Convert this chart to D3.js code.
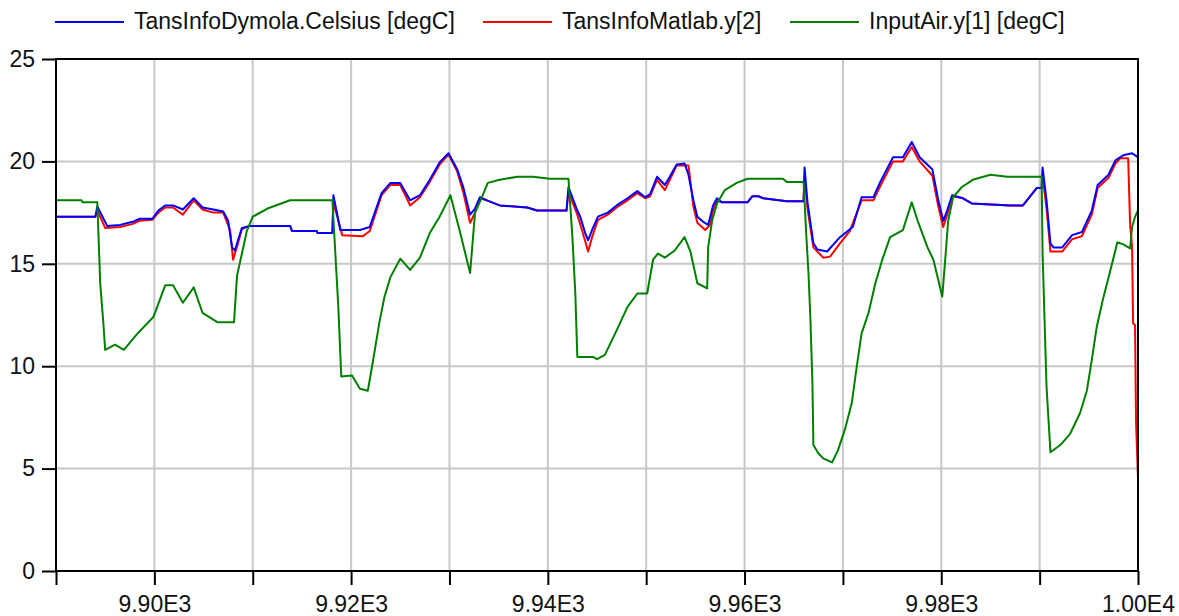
<!DOCTYPE html>
<html>
<head>
<meta charset="utf-8">
<script src="https://cdn.jsdelivr.net/npm/d3@7"></script>
<style>
	body { margin: 0; background: #fff; }
	text { font-family: "Liberation Sans", Arial, sans-serif; fill: #111; }
</style>
</head>
<body>
<svg id="chart" width="1179" height="616"></svg>
<script>
// series names + colours
var seriesName = ["TansInfoDymola.Celsius [degC]", "TansInfoMatlab.y[2]", "InputAir.y[1] [degC]"];
var seriesColor = ["#0000ff", "#ff0000", "#008000"];

var xTicks = [9890, 9900, 9910, 9920, 9930, 9940, 9950, 9960, 9970, 9980, 9990, 10000];
var yTicks = [0, 5, 10, 15, 20, 25];

// TansInfoDymola.Celsius
var tDymola = [9890.0, 9894.0, 9894.2, 9895.2, 9896.5, 9897.8, 9898.5, 9899.8, 9900.4, 9901.1, 9901.9, 9902.9, 9904.0, 9904.9, 9906.0, 9907.0, 9907.5, 9907.9, 9908.2, 9908.5, 9908.9, 9909.7, 9913.8, 9914.0, 9916.5, 9916.6, 9918.1, 9918.2, 9918.9, 9920.9, 9921.9, 9923.1, 9924.0, 9925.0, 9926.0, 9927.0, 9928.0, 9929.0, 9929.9, 9930.8, 9931.4, 9932.1, 9932.6, 9933.1, 9933.8, 9935.1, 9937.9, 9938.9, 9941.9, 9942.1, 9943.0, 9943.3, 9943.8, 9944.1, 9944.5, 9945.1, 9946.1, 9947.0, 9948.1, 9949.1, 9949.9, 9950.4, 9951.1, 9951.9, 9952.4, 9953.1, 9953.9, 9954.3, 9954.8, 9955.2, 9955.8, 9956.3, 9956.8, 9957.2, 9957.7, 9960.3, 9960.8, 9961.4, 9961.9, 9964.3, 9966.0, 9966.1, 9966.4, 9967.0, 9967.4, 9968.4, 9969.7, 9971.0, 9971.9, 9973.1, 9973.8, 9975.1, 9976.1, 9977.0, 9977.8, 9979.1, 9979.7, 9980.2, 9980.6, 9981.1, 9982.2, 9983.1, 9987.0, 9988.3, 9989.7, 9990.2, 9990.3, 9990.7, 9991.1, 9991.4, 9992.3, 9993.3, 9994.3, 9995.3, 9995.9, 9997.0, 9997.7, 9998.5, 9999.4, 10000.0];
var vDymola = [17.3, 17.3, 17.8, 16.85, 16.9, 17.05, 17.2, 17.2, 17.6, 17.85, 17.85, 17.65, 18.2, 17.75, 17.65, 17.55, 17.1, 15.8, 15.65, 16.15, 16.75, 16.85, 16.85, 16.6, 16.6, 16.5, 16.5, 18.35, 16.65, 16.65, 16.8, 18.45, 18.95, 18.95, 18.1, 18.35, 19.1, 19.95, 20.4, 19.6, 18.75, 17.4, 17.7, 18.25, 18.1, 17.85, 17.75, 17.6, 17.6, 18.75, 17.6, 17.3, 16.5, 16.15, 16.65, 17.3, 17.5, 17.85, 18.2, 18.55, 18.25, 18.4, 19.25, 18.85, 19.25, 19.85, 19.9, 19.35, 18.1, 17.3, 17.05, 16.9, 17.85, 18.2, 18.0, 18.0, 18.3, 18.3, 18.2, 18.05, 18.05, 19.7, 18.0, 16.0, 15.7, 15.6, 16.3, 16.8, 18.25, 18.25, 19.0, 20.2, 20.2, 20.95, 20.2, 19.6, 18.1, 17.1, 17.6, 18.35, 18.2, 17.95, 17.85, 17.85, 18.7, 18.7, 19.7, 18.1, 16.0, 15.8, 15.8, 16.4, 16.55, 17.6, 18.85, 19.35, 20.05, 20.3, 20.4, 20.2];

// TansInfoMatlab.y[2]
var tMatlab = [9890.0, 9894.0, 9894.2, 9895.0, 9896.5, 9897.8, 9898.5, 9899.8, 9900.4, 9901.1, 9901.9, 9902.9, 9904.0, 9904.9, 9906.0, 9907.0, 9907.7, 9908.0, 9908.5, 9908.9, 9909.7, 9913.8, 9914.0, 9916.5, 9916.6, 9918.1, 9918.2, 9919.1, 9921.2, 9921.9, 9923.1, 9924.0, 9925.0, 9926.0, 9927.0, 9928.0, 9929.0, 9929.9, 9930.8, 9931.4, 9932.1, 9932.6, 9933.1, 9933.8, 9935.1, 9937.9, 9938.9, 9941.9, 9942.1, 9943.0, 9943.5, 9944.1, 9944.5, 9945.1, 9946.1, 9947.0, 9948.1, 9949.1, 9949.9, 9950.4, 9951.1, 9951.9, 9952.4, 9953.1, 9954.3, 9954.8, 9955.2, 9956.0, 9956.5, 9956.8, 9957.2, 9957.7, 9960.3, 9960.8, 9961.4, 9961.9, 9964.3, 9966.0, 9966.1, 9966.4, 9967.0, 9968.0, 9968.7, 9969.7, 9970.7, 9971.9, 9973.1, 9973.8, 9975.1, 9976.1, 9977.0, 9977.8, 9979.1, 9979.7, 9980.2, 9980.6, 9981.1, 9982.2, 9983.1, 9987.0, 9988.3, 9989.7, 9990.2, 9990.3, 9990.7, 9991.1, 9992.3, 9993.3, 9994.3, 9995.3, 9995.9, 9997.0, 9997.7, 9998.2, 9999.0, 9999.2, 9999.4, 9999.5, 9999.7, 9999.8, 10000.0];
var vMatlab = [17.3, 17.3, 17.6, 16.75, 16.8, 16.95, 17.1, 17.15, 17.5, 17.75, 17.75, 17.4, 18.1, 17.65, 17.5, 17.5, 16.65, 15.2, 16.0, 16.7, 16.85, 16.85, 16.6, 16.6, 16.5, 16.5, 18.0, 16.4, 16.35, 16.6, 18.35, 18.85, 18.85, 17.85, 18.25, 19.0, 19.85, 20.35, 19.5, 18.5, 17.0, 17.5, 18.2, 18.1, 17.85, 17.75, 17.6, 17.6, 18.5, 17.4, 16.6, 15.6, 16.3, 17.15, 17.4, 17.75, 18.1, 18.45, 18.2, 18.3, 19.1, 18.6, 19.1, 19.8, 19.8, 17.8, 17.0, 16.65, 16.9, 17.6, 18.1, 18.0, 18.0, 18.3, 18.3, 18.2, 18.05, 18.05, 19.3, 17.7, 15.8, 15.3, 15.35, 16.0, 16.6, 18.1, 18.1, 18.8, 20.0, 20.0, 20.7, 20.0, 19.3, 17.8, 16.8, 17.4, 18.3, 18.2, 17.95, 17.85, 17.85, 18.7, 18.7, 19.3, 17.7, 15.6, 15.6, 16.2, 16.35, 17.4, 18.7, 19.2, 19.9, 20.15, 20.15, 16.9, 15.8, 12.1, 12.0, 7.3, 4.5];

// InputAir.y[1]
var tAir = [9890.0, 9892.6, 9892.7, 9894.2, 9894.5, 9894.8, 9895.0, 9896.0, 9896.9, 9898.3, 9899.9, 9901.1, 9901.9, 9902.9, 9904.0, 9904.9, 9906.4, 9908.1, 9908.4, 9908.9, 9909.4, 9910.0, 9911.5, 9913.8, 9918.1, 9918.4, 9918.7, 9919.0, 9920.1, 9920.9, 9921.7, 9922.1, 9922.9, 9923.4, 9924.0, 9925.0, 9926.0, 9927.0, 9928.0, 9929.0, 9930.1, 9931.1, 9932.1, 9932.6, 9933.3, 9933.9, 9935.1, 9936.9, 9938.5, 9940.2, 9942.1, 9942.5, 9942.8, 9943.0, 9944.6, 9945.0, 9945.8, 9947.0, 9948.1, 9949.1, 9950.1, 9950.7, 9951.2, 9951.9, 9952.9, 9953.9, 9954.5, 9955.2, 9956.2, 9956.3, 9956.7, 9957.2, 9958.0, 9959.2, 9960.3, 9963.9, 9964.3, 9966.0, 9966.3, 9966.5, 9966.7, 9966.9, 9967.0, 9967.5, 9968.0, 9968.9, 9969.5, 9970.2, 9970.9, 9971.4, 9971.9, 9972.6, 9973.3, 9974.0, 9974.8, 9976.1, 9977.0, 9977.6, 9978.6, 9979.2, 9980.1, 9980.4, 9980.7, 9981.2, 9982.1, 9983.2, 9985.0, 9986.7, 9990.2, 9990.3, 9990.5, 9990.7, 9991.1, 9992.1, 9993.1, 9994.1, 9994.8, 9995.3, 9995.8, 9996.4, 9997.2, 9997.9, 9998.5, 9999.2, 9999.4, 9999.7, 10000.0];
var vAir = [18.1, 18.1, 18.0, 18.0, 14.0, 12.2, 10.8, 11.05, 10.8, 11.6, 12.4, 13.95, 13.95, 13.1, 13.85, 12.6, 12.15, 12.15, 14.4, 15.5, 16.6, 17.3, 17.7, 18.1, 18.1, 15.5, 12.9, 9.5, 9.55, 8.9, 8.8, 9.9, 12.2, 13.4, 14.35, 15.25, 14.7, 15.3, 16.5, 17.3, 18.35, 16.5, 14.55, 17.5, 18.25, 18.95, 19.1, 19.25, 19.25, 19.15, 19.15, 16.3, 13.5, 10.45, 10.45, 10.35, 10.55, 11.75, 12.9, 13.55, 13.55, 15.2, 15.5, 15.3, 15.65, 16.3, 15.6, 14.05, 13.8, 15.8, 17.1, 17.95, 18.6, 18.95, 19.15, 19.15, 19.0, 19.0, 16.2, 14.55, 12.25, 9.2, 6.15, 5.75, 5.5, 5.3, 5.9, 6.9, 8.2, 9.95, 11.6, 12.6, 14.05, 15.2, 16.3, 16.65, 18.0, 17.1, 15.8, 15.2, 13.4, 15.2, 17.1, 18.25, 18.75, 19.1, 19.35, 19.25, 19.25, 15.5, 12.25, 9.0, 5.8, 6.15, 6.7, 7.7, 8.8, 10.3, 11.9, 13.2, 14.7, 16.05, 15.95, 15.75, 16.8, 17.3, 17.6];

var svg = d3.select("#chart");

var x = d3.scaleLinear().domain([9890, 10000]).range([56, 1138]);
var y = d3.scaleLinear().domain([0, 25]).range([571, 59]);

//grid
var grid = svg.append("g").attr("id", "grid");
grid.selectAll(".vgrid")
	.data(xTicks.slice(1, -1))
.enter().append("line")
	.attr("class", "vgrid")
	.attr("x1", function(d){ return x(d); })
	.attr("x2", function(d){ return x(d); })
	.attr("y1", y(25))
	.attr("y2", y(0))
	.style("stroke", "#c8c8c8")
	.style("stroke-width", 2);
grid.selectAll(".hgrid")
	.data(yTicks.slice(1, -1))
.enter().append("line")
	.attr("class", "hgrid")
	.attr("x1", x(9890))
	.attr("x2", x(10000))
	.attr("y1", function(d){ return y(d); })
	.attr("y2", function(d){ return y(d); })
	.style("stroke", "#c8c8c8")
	.style("stroke-width", 2);

//axes
function sciFormat(d){
	if ((d - 9900) % 20 != 0) return "";
	return d3.format(".2e")(d).replace("e+", "E");
}
var xAxis = svg.append("g")
	.attr("transform", "translate(0," + y(0) + ")")
	.call(d3.axisBottom(x).tickValues(xTicks).tickFormat(sciFormat)
		.tickSize(14).tickSizeOuter(0).tickPadding(11));
var yAxis = svg.append("g")
	.attr("transform", "translate(" + x(9890) + ",0)")
	.call(d3.axisLeft(y).tickValues(yTicks).tickFormat(d3.format("d"))
		.tickSize(14).tickSizeOuter(0).tickPadding(7));
[xAxis, yAxis].forEach(function(a){
	a.select(".domain").remove();
	a.selectAll(".tick line").style("stroke", "#000").style("stroke-width", 2);
	a.selectAll(".tick text")
		.style("font-size", "23px")
		.style("font-family", "\"Liberation Sans\", Arial, sans-serif")
		.style("fill", "#111");
});

//lines (matlab under dymola)
var line = d3.line()
	.x(function(d){ return x(d[0]); })
	.y(function(d){ return y(d[1]); });
var lines = [
	{ k: 1, t: tMatlab, v: vMatlab },
	{ k: 0, t: tDymola, v: vDymola },
	{ k: 2, t: tAir, v: vAir }
];
var plot = svg.append("g").attr("id", "lines");
lines.forEach(function(s){
	plot.append("path")
		.datum(d3.zip(s.t, s.v))
		.attr("d", line)
		.style("fill", "none")
		.style("stroke", seriesColor[s.k])
		.style("stroke-width", 2)
		.style("stroke-linejoin", "round");
});

//frame
svg.append("rect")
	.attr("x", x(9890))
	.attr("y", y(25))
	.attr("width", x(10000) - x(9890))
	.attr("height", y(0) - y(25))
	.style("fill", "none")
	.style("stroke", "#000")
	.style("stroke-width", 2);

//legend
var legX = [55, 483, 790];
var legend = svg.append("g").attr("id", "legend");
seriesName.forEach(function(name, i){
	legend.append("line")
		.attr("x1", legX[i])
		.attr("x2", legX[i] + 69)
		.attr("y1", 22)
		.attr("y2", 22)
		.style("stroke", seriesColor[i])
		.style("stroke-width", 2);
	legend.append("text")
		.attr("x", legX[i] + 79)
		.attr("y", 29)
		.style("font-size", "23px")
		.text(name);
});
</script>
</body>
</html>
